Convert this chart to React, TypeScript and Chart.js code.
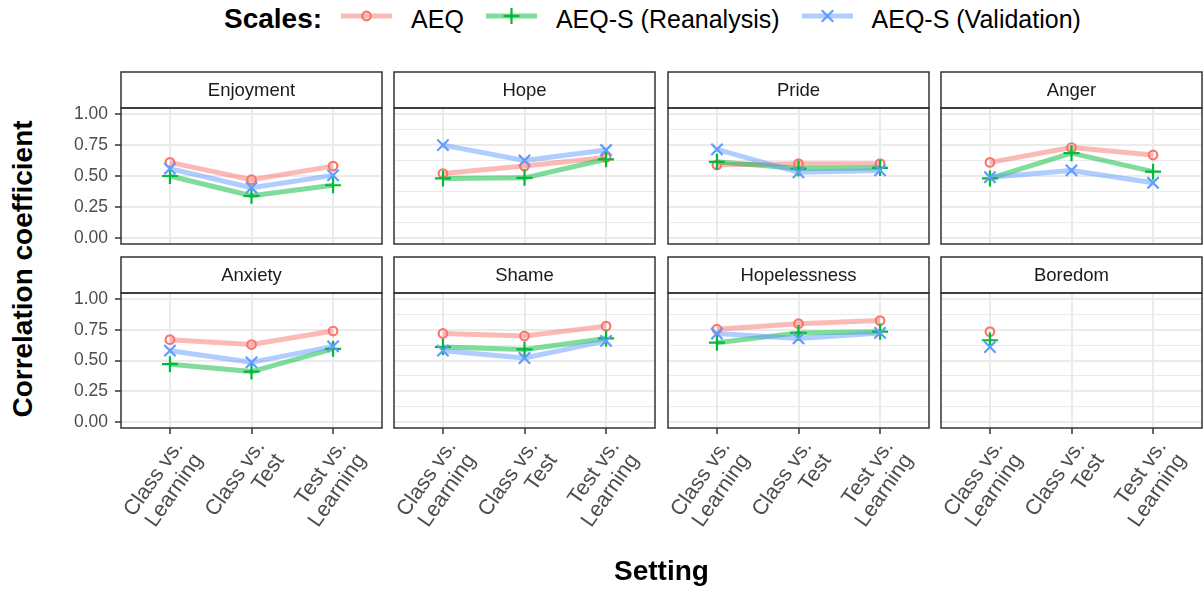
import React, { useEffect, useRef } from 'react';
import { Chart, registerables } from 'chart.js';

Chart.register(...registerables);
Chart.defaults.font.family = "'Liberation Sans', Arial, sans-serif";

// ---------- data ----------
const facetNames = ['Enjoyment', 'Hope', 'Pride', 'Anger', 'Anxiety', 'Shame', 'Hopelessness', 'Boredom'];
const settingLabels: string[][] = [
  ['Class vs.', 'Learning'],
  ['Class vs.', 'Test'],
  ['Test vs.', 'Learning'],
];
const scaleNames = ['AEQ', 'AEQ-S (Reanalysis)', 'AEQ-S (Validation)'];
const yTickValues = [0, 0.125, 0.25, 0.375, 0.5, 0.625, 0.75, 0.875, 1];
const yTickLabels = ['0.00', '', '0.25', '', '0.50', '', '0.75', '', '1.00'];

const aeqValues: (number | null)[][] = [
  [0.61, 0.47, 0.58], // Enjoyment
  [0.52, 0.58, 0.65], // Hope
  [0.59, 0.60, 0.60], // Pride
  [0.61, 0.73, 0.67], // Anger
  [0.67, 0.63, 0.74], // Anxiety
  [0.72, 0.70, 0.78], // Shame
  [0.755, 0.80, 0.825], // Hopelessness
  [0.735, null, null], // Boredom
];
const reanalysisValues: (number | null)[][] = [
  [0.50, 0.34, 0.425],
  [0.48, 0.485, 0.635],
  [0.615, 0.56, 0.565],
  [0.48, 0.685, 0.535],
  [0.47, 0.41, 0.595],
  [0.61, 0.59, 0.68],
  [0.645, 0.725, 0.735],
  [0.665, null, null],
];
const validationValues: (number | null)[][] = [
  [0.56, 0.405, 0.505],
  [0.75, 0.625, 0.71],
  [0.715, 0.53, 0.545],
  [0.49, 0.545, 0.445],
  [0.58, 0.485, 0.615],
  [0.58, 0.52, 0.66],
  [0.72, 0.68, 0.725],
  [0.61, null, null],
];

// ---------- styles ----------
const pointColors = ['#F8766D', '#00BA38', '#619CFF'];
const lineColors = ['rgba(248,118,109,0.5)', 'rgba(0,186,56,0.5)', 'rgba(97,156,255,0.5)'];
const pointStyles = ['circle', 'cross', 'crossRot'];
const pointRadii = [4.3, 8, 8];

const FONT = "'Liberation Sans', Arial, sans-serif";
const colLefts = [121, 394, 668, 941];
const rowTops = [108, 293];
const panelHeights = [136, 135];
const PANEL_W = 261;
const STRIP = 36;

const framePlugin = {
  id: 'frame',
  afterDraw(chart: any) {
    const { ctx, chartArea: a } = chart;
    ctx.save();
    ctx.strokeStyle = '#333333';
    ctx.lineWidth = 1.5;
    ctx.strokeRect(a.left, a.top, a.right - a.left, a.bottom - a.top);
    ctx.strokeRect(a.left, a.top - STRIP, a.right - a.left, STRIP);
    ctx.restore();
  },
};

function Panel({ index }: { index: number }) {
  const ref = useRef<HTMLCanvasElement>(null);
  const row = Math.floor(index / 4);
  const col = index % 4;
  const L = colLefts[col];
  const T = rowTops[row];
  const H = panelHeights[row];
  const padL = col === 0 ? 62 : 12;
  const padT = STRIP + 4;
  const padB = row === 1 ? 128 : 24;
  const padR = 3;
  const cw = padL + PANEL_W + padR;
  const ch = padT + H + padB;

  useEffect(() => {
    const seriesValues = [aeqValues, reanalysisValues, validationValues];
    const datasets: any[] = [];
    seriesValues.forEach((vals, s) => {
      const pts = vals[index]
        .map((v, i) => ({ x: i + 1, y: v }))
        .filter((p) => p.y !== null);
      datasets.push({
        data: pts,
        borderColor: lineColors[s],
        borderWidth: 5,
        borderJoinStyle: 'round',
        pointRadius: 0,
        fill: false,
        tension: 0,
        order: 20 - s,
      });
      datasets.push({
        data: pts,
        showLine: false,
        pointStyle: pointStyles[s],
        pointRadius: pointRadii[s],
        pointBorderWidth: 2.2,
        pointBorderColor: pointColors[s],
        pointBackgroundColor: 'rgba(0,0,0,0)',
        order: 10 - s,
      });
    });

    const chart = new Chart(ref.current as HTMLCanvasElement, {
      type: 'line',
      data: { datasets },
      plugins: [framePlugin],
      options: {
        animation: false,
        responsive: false,
        devicePixelRatio: 1,
        events: [],
        layout: {
          autoPadding: false,
          padding: { top: padT, bottom: row === 0 ? padB : 0, left: 0, right: padR },
        },
        plugins: { legend: { display: false }, tooltip: { enabled: false } },
        scales: {
          x: {
            type: 'linear',
            min: 0.4,
            max: 3.6,
            afterBuildTicks: (s: any) => {
              s.ticks = [1, 2, 3].map((v) => ({ value: v }));
            },
            afterFit: (s: any) => {
              s.height = row === 1 ? padB : 0;
            },
            border: { display: false },
            grid: {
              color: '#EBEBEB',
              lineWidth: 2,
              drawTicks: row === 1,
              tickLength: 6,
              tickColor: '#333333',
              tickWidth: 1.5,
            },
            ticks: {
              display: row === 1,
              autoSkip: false,
              minRotation: 55,
              maxRotation: 55,
              padding: 2,
              labelOffset: 9,
              color: '#4D4D4D',
              font: { size: 21.5, lineHeight: 1.1 },
              callback: (_v: any, i: number) => settingLabels[i],
            },
          },
          y: {
            min: -0.05,
            max: 1.05,
            afterBuildTicks: (s: any) => {
              s.ticks = yTickValues.map((v) => ({ value: v }));
            },
            afterFit: (s: any) => {
              s.width = padL;
            },
            border: { display: false },
            grid: {
              color: '#EBEBEB',
              lineWidth: (c: any) => (yTickLabels[c.index] ? 2 : 1),
              drawTicks: col === 0,
              tickLength: 6,
              tickColor: (c: any) => (yTickLabels[c.index] ? '#333333' : 'rgba(0,0,0,0)'),
              tickWidth: 1.5,
            },
            ticks: {
              display: col === 0,
              padding: 7,
              color: '#4D4D4D',
              font: { size: 17.5 },
              callback: (_v: any, i: number) => yTickLabels[i],
            },
          },
        },
      } as any,
    });
    return () => chart.destroy();
  }, []);

  return (
    <>
      <canvas
        ref={ref}
        width={cw}
        height={ch}
        style={{ position: 'absolute', left: L - padL, top: T - padT, width: cw, height: ch }}
      />
      <div
        style={{
          position: 'absolute',
          left: L,
          top: T - STRIP,
          width: PANEL_W,
          height: STRIP,
          lineHeight: `${STRIP}px`,
          textAlign: 'center',
          fontFamily: FONT,
          fontSize: 18.5,
          color: '#1A1A1A',
        }}
      >
        {facetNames[index]}
      </div>
    </>
  );
}

function LegendKey({ s }: { s: number }) {
  const c = pointColors[s];
  let sym: React.ReactNode = null;
  if (s === 0) sym = <circle cx={25.5} cy={10} r={4.3} fill="none" stroke={c} strokeWidth={2.2} />;
  else if (s === 1)
    sym = (
      <g stroke={c} strokeWidth={2.2}>
        <line x1={17.5} y1={10} x2={33.5} y2={10} />
        <line x1={25.5} y1={2} x2={25.5} y2={18} />
      </g>
    );
  else
    sym = (
      <g stroke={c} strokeWidth={2.2}>
        <line x1={19.8} y1={4.3} x2={31.2} y2={15.7} />
        <line x1={19.8} y1={15.7} x2={31.2} y2={4.3} />
      </g>
    );
  return (
    <svg width={51} height={20} style={{ display: 'block', position: 'relative', top: -3 }}>
      <line x1={0} y1={10} x2={51} y2={10} stroke={lineColors[s]} strokeWidth={5} />
      {sym}
    </svg>
  );
}

export default function App() {
  return (
    <div
      style={{
        position: 'absolute',
        left: 0,
        top: 0,
        width: 1204,
        height: 594,
        background: '#ffffff',
        overflow: 'hidden',
        fontFamily: FONT,
      }}
    >
      {/* legend */}
      <div
        style={{
          position: 'absolute',
          left: 224,
          width: 960,
          top: 1,
          height: 36,
          display: 'flex',
          alignItems: 'center',
          justifyContent: 'flex-start',
        }}
      >
        <span style={{ fontWeight: 'bold', fontSize: 28, lineHeight: 1, color: '#000', marginRight: 19 }}>Scales:</span>
        {scaleNames.map((n, s) => (
          <React.Fragment key={n}>
            <LegendKey s={s} />
            <span
              style={{
                fontSize: 25,
                lineHeight: 1,
                color: '#000',
                marginLeft: 19,
                marginRight: s < 2 ? 22 : 0,
              }}
            >
              {n}
            </span>
          </React.Fragment>
        ))}
      </div>

      {facetNames.map((_, i) => (
        <Panel key={i} index={i} />
      ))}

      {/* y axis title */}
      <div
        style={{
          position: 'absolute',
          left: 23 - 200,
          top: 269 - 14,
          width: 400,
          height: 28,
          lineHeight: '28px',
          textAlign: 'center',
          fontWeight: 'bold',
          fontSize: 28,
          color: '#000',
          transform: 'rotate(-90deg)',
          transformOrigin: '50% 50%',
        }}
      >
        Correlation coefficient
      </div>

      {/* x axis title */}
      <div
        style={{
          position: 'absolute',
          left: 121,
          width: 1081,
          top: 557,
          height: 28,
          lineHeight: '28px',
          textAlign: 'center',
          fontWeight: 'bold',
          fontSize: 28,
          color: '#000',
        }}
      >
        Setting
      </div>
    </div>
  );
}
